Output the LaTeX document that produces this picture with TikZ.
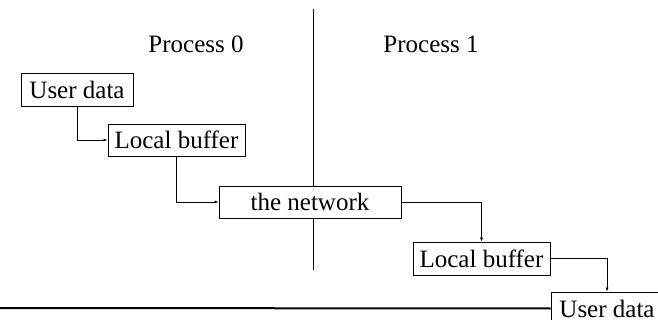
\documentclass[tikz,border=0pt]{standalone}
\usepackage{fontspec}
\setmainfont{Liberation Serif}
\usetikzlibrary{arrows.meta}
\begin{document}
\begin{tikzpicture}[x=1pt,y=-1pt,
  box/.style={draw,fill=white,line width=0.8pt,inner sep=0pt,font=\fontsize{25}{25}\selectfont},
  lbl/.style={inner sep=0pt,font=\fontsize{25}{25}\selectfont},
  conn/.style={line width=0.7pt,-{Latex[length=4pt,width=3pt]}}]
\useasboundingbox (0,0) rectangle (658,320);
\coordinate (vt) at (313,9);
\coordinate (vb) at (313,270);
\draw[line width=1pt] (vt) -- (vb);
\node[lbl] (p0) at (196,44) {Process 0};
\node[lbl] (p1) at (431,44) {Process 1};
\node[box,minimum width=112pt,minimum height=33pt] (ud1) at (77,89.5) {User data};
\node[box,minimum width=137pt,minimum height=32pt] (lb1) at (176.5,140) {Local buffer};
\node[box,minimum width=182pt,minimum height=32pt] (net) at (310,202) {the network};
\node[box,minimum width=137pt,minimum height=33pt] (lb2) at (481.5,258.5) {Local buffer};
\node[box,minimum width=112pt,minimum height=33pt] (ud2) at (607,308.5) {User data};
\coordinate (hl) at (0,308);
\draw[line width=2pt] (hl) -- (ud2.west);
\draw[conn] (ud1.south) |- (lb1.west);
\draw[conn] (lb1.south) |- (net.west);
\draw[conn] (net.east) -| (lb2.north);
\draw[conn] (lb2.east) -| (ud2.north);
\end{tikzpicture}
\end{document}
